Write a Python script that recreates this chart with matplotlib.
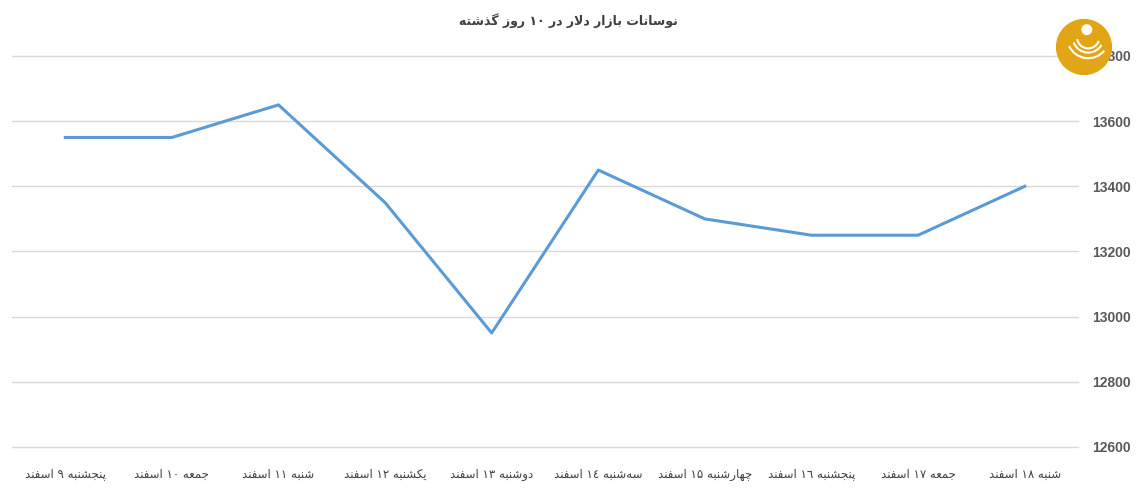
import matplotlib
matplotlib.use('Agg')
import matplotlib.pyplot as plt
from matplotlib.patches import Circle, Arc

# data
days = ['پنجشنبه ۹ اسفند', 'جمعه ۱۰ اسفند', 'شنبه ۱۱ اسفند', 'یکشنبه ۱۲ اسفند',
        'دوشنبه ۱۳ اسفند', 'سه\u200cشنبه ۱٤ اسفند', 'چهارشنبه ۱۵ اسفند',
        'پنجشنبه ۱٦ اسفند', 'جمعه ۱۷ اسفند', 'شنبه ۱۸ اسفند']
prices = [13550, 13550, 13650, 13350, 12950, 13450, 13300, 13250, 13250, 13400]
yticks = [12600, 12800, 13000, 13200, 13400, 13600, 13800]
title = 'نوسانات بازار دلار در ۱۰ روز گذشته'

# poor man's arabic shaping: (isolated, final, initial, medial)
FORMS = {
    'ا': (0xFE8D, 0xFE8E, None, None), 'آ': (0xFE81, 0xFE82, None, None),
    'ب': (0xFE8F, 0xFE90, 0xFE91, 0xFE92), 'پ': (0xFB56, 0xFB57, 0xFB58, 0xFB59),
    'ت': (0xFE95, 0xFE96, 0xFE97, 0xFE98), 'ث': (0xFE99, 0xFE9A, 0xFE9B, 0xFE9C),
    'ج': (0xFE9D, 0xFE9E, 0xFE9F, 0xFEA0), 'چ': (0xFB7A, 0xFB7B, 0xFB7C, 0xFB7D),
    'ح': (0xFEA1, 0xFEA2, 0xFEA3, 0xFEA4), 'خ': (0xFEA5, 0xFEA6, 0xFEA7, 0xFEA8),
    'د': (0xFEA9, 0xFEAA, None, None), 'ذ': (0xFEAB, 0xFEAC, None, None),
    'ر': (0xFEAD, 0xFEAE, None, None), 'ز': (0xFEAF, 0xFEB0, None, None),
    'ژ': (0xFB8A, 0xFB8B, None, None),
    'س': (0xFEB1, 0xFEB2, 0xFEB3, 0xFEB4), 'ش': (0xFEB5, 0xFEB6, 0xFEB7, 0xFEB8),
    'ع': (0xFEC9, 0xFECA, 0xFECB, 0xFECC), 'ف': (0xFED1, 0xFED2, 0xFED3, 0xFED4),
    'ق': (0xFED5, 0xFED6, 0xFED7, 0xFED8), 'ک': (0xFB8E, 0xFB8F, 0xFB90, 0xFB91),
    'گ': (0xFB92, 0xFB93, 0xFB94, 0xFB95), 'ل': (0xFEDD, 0xFEDE, 0xFEDF, 0xFEE0),
    'م': (0xFEE1, 0xFEE2, 0xFEE3, 0xFEE4), 'ن': (0xFEE5, 0xFEE6, 0xFEE7, 0xFEE8),
    'ه': (0xFEE9, 0xFEEA, 0xFEEB, 0xFEEC), 'و': (0xFEED, 0xFEEE, None, None),
    'ی': (0xFBFC, 0xFBFD, 0xFBFE, 0xFBFF),
}


def joins_next(c):
    return c in FORMS and FORMS[c][2] is not None


def shape(s):
    out = []
    i = 0
    chars = list(s)
    while i < len(chars):
        c = chars[i]
        if c not in FORMS:
            if c != '\u200c':
                out.append(c)
            i += 1
            continue
        prev = chars[i - 1] if i > 0 else ''
        after_join = joins_next(prev)
        # lam-alef ligature
        if c == 'ل' and i + 1 < len(chars) and chars[i + 1] == 'ا':
            out.append(chr(0xFEFC if after_join else 0xFEFB))
            i += 2
            continue
        nxt = chars[i + 1] if i + 1 < len(chars) else ''
        before_join = joins_next(c) and nxt in FORMS
        f = FORMS[c]
        if after_join and before_join:
            out.append(chr(f[3]))
        elif after_join:
            out.append(chr(f[1]))
        elif before_join:
            out.append(chr(f[2]))
        else:
            out.append(chr(f[0]))
        i += 1
    # visual order: reverse, but keep digit runs left-to-right
    vis = ''.join(out)[::-1]
    res, run = '', ''
    for c in vis:
        if c.isdigit():
            run += c
        else:
            res += run[::-1] + c
            run = ''
    return res + run[::-1]


plt.rcParams['font.family'] = ['DejaVu Sans']

fig = plt.figure(figsize=(11.36, 4.92), dpi=100)
ax = fig.add_axes([12 / 1136, 1 - 447 / 492, 1066 / 1136, 391 / 492])

x = range(len(prices))
ax.plot(x, prices, color='#5B9BD5', linewidth=2.2, solid_joinstyle='round')

ax.set_xlim(-0.5, len(prices) - 0.5)
ax.set_ylim(12600, 13800)
ax.set_yticks(yticks)
ax.yaxis.tick_right()
ax.set_yticklabels([str(v) for v in yticks], color='#595959', fontsize=10,
                   fontweight='bold', family='Liberation Sans')
ax.tick_params(axis='y', length=0, pad=10)
ax.set_xticks(list(x))
ax.set_xticklabels([shape(d) for d in days], color='#404040', fontsize=8.5)
ax.tick_params(axis='x', length=0, pad=15)
ax.grid(axis='y', color='#D9D9D9', linewidth=1)
for gl in ax.get_ygridlines():
    gl.set_clip_on(False)
ax.set_axisbelow(True)
for sp in ax.spines.values():
    sp.set_visible(False)

fig.text(568 / 1136, 1 - 21 / 492, shape(title), ha='center', va='center',
         fontsize=9, fontweight='bold', color='#404040')

# logo
lax = fig.add_axes([1056 / 1136, 1 - 75 / 492, 56 / 1136, 56 / 492])
lax.set_xlim(-1, 1)
lax.set_ylim(-1, 1)
lax.set_aspect('equal')
lax.axis('off')
lax.add_patch(Circle((0, 0), 0.98, color='#E2A516'))
lax.add_patch(Circle((0.1, 0.62), 0.17, color='white'))
for r, t1, t2 in [(0.55, 200, 330), (0.75, 205, 320), (0.4, 190, 340)]:
    lax.add_patch(Arc((0.15, 0.35), 2 * r, 2 * r, theta1=t1, theta2=t2,
                      color='white', lw=1.5))

fig.savefig('out.png', dpi=100, facecolor='white')
